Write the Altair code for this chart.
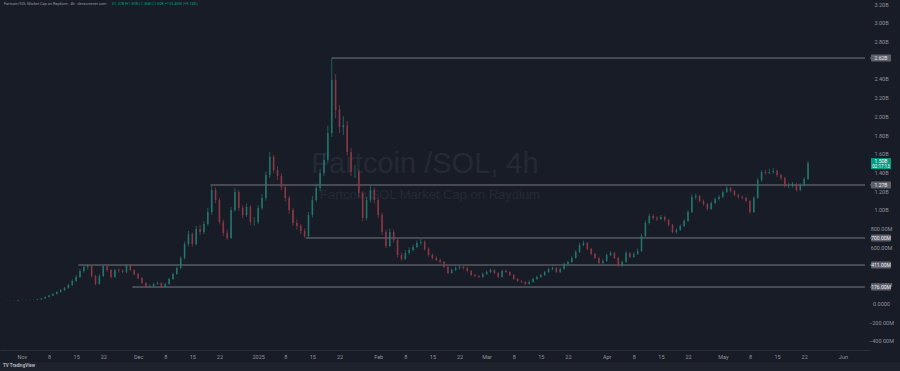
import altair as alt
import pandas as pd
from datetime import datetime, timedelta

# ---------------- data (market cap in millions, daily candles) ----------------
start_day = "2024-10-28"
first_open = 32
closes = [32,32,32,37,37,37,37,37,43,53,
          69,85,101,123,144,166,198,240,283,347,
          390,400,294,208,294,400,358,283,358,347,
          336,411,358,315,272,219,176,187,208,219,
          176,208,262,315,379,486,635,742,635,796,
          764,849,977,1212,1105,870,753,700,999,1191,
          1020,945,1031,870,870,1020,1127,1372,1565,1426,
          1362,1244,1127,999,860,828,774,721,945,1105,
          1233,1394,1533,1821,2387,2067,1885,1906,1618,1404,
          1404,1180,913,1105,1212,1105,945,764,614,764,
          678,518,475,539,571,603,646,657,582,518,
          486,465,443,390,326,358,379,390,379,347,
          304,294,283,315,336,358,326,283,347,336,
          304,262,240,230,208,230,262,283,304,336,
          368,379,336,368,422,443,486,550,625,646,
          582,529,486,432,454,518,539,486,400,443,
          539,497,529,561,721,860,934,913,902,924,
          892,838,764,785,828,881,977,1137,1148,1095,
          1063,1009,1073,1116,1137,1191,1233,1201,1159,1137,
          1127,1095,977,1127,1319,1404,1394,1404,1415,1372,
          1340,1255,1255,1276,1212,1265,1330,1500]
highs = [34,34,35,39,40,40,41,41,46,57,
         75,92,110,132,156,178,212,258,302,368,
         405,412,408,305,310,410,412,368,372,380,
         365,418,420,370,328,285,230,205,222,235,
         228,220,275,330,395,505,660,775,760,830,
         840,880,1020,1266,1240,1130,895,790,1030,1235,
         1210,1050,1070,1050,920,1050,1170,1410,1620,1590,
         1470,1390,1270,1150,1020,900,850,800,980,1150,
         1280,1440,1600,1900,2623,2450,2120,2000,1950,1660,
         1480,1430,1200,1140,1260,1240,1130,970,790,800,
         790,700,545,570,600,630,675,690,675,600,
         535,505,480,455,400,375,395,410,405,392,
         358,320,305,330,352,375,368,335,362,365,
         345,312,272,250,240,245,275,298,318,350,
         382,395,390,385,438,460,505,570,650,670,
         660,595,540,498,472,535,560,552,495,460,
         560,552,548,585,745,885,960,955,935,945,
         938,905,850,805,845,900,1000,1165,1175,1160,
         1110,1075,1090,1135,1160,1210,1255,1245,1215,1172,
         1155,1140,1105,1145,1340,1425,1430,1440,1445,1430,
         1390,1352,1290,1300,1290,1285,1350,1520]
lows = [30,30,30,31,35,34,35,35,36,41,
        50,65,80,96,115,135,158,188,228,270,
        330,360,280,195,200,285,340,268,275,330,
        320,325,345,300,260,205,176,168,178,198,
        168,170,200,250,305,365,470,610,610,620,
        735,740,830,950,1070,845,720,680,690,980,
        990,910,925,840,830,850,1000,1100,1340,1390,
        1320,1210,1090,960,830,790,740,700,705,920,
        1080,1200,1360,1500,1780,1980,1820,1800,1580,1360,
        1340,1130,880,890,1080,1070,910,730,590,600,
        650,495,455,465,520,555,590,620,565,500,
        470,450,428,375,312,318,345,365,360,335,
        292,282,272,275,305,325,315,272,278,325,
        292,252,230,220,198,200,222,252,272,295,
        325,355,325,328,360,410,432,478,540,610,
        570,515,472,420,422,445,505,475,390,392,
        435,485,488,518,550,710,845,895,880,890,
        875,820,750,748,775,815,870,965,1110,1080,
        1045,995,1000,1060,1100,1125,1180,1185,1145,1120,
        1110,1080,960,968,1115,1300,1375,1380,1385,1355,
        1320,1240,1232,1240,1198,1200,1250,1320]

# horizontal rays
lvl_values = [2623, 1266, 700, 411, 176]
lvl_starts = ["2025-01-20T00:00:00Z", "2024-12-19T17:00:00Z", "2025-01-13T07:00:00Z",
              "2024-11-15T14:00:00Z", "2024-11-29T12:00:00Z"]
lvl_labels = ["2.62B", "1.27B", "700.00M", "411.00M", "176.00M"]

y_ticks = [3200, 3000, 2800, 2400, 2200, 2000, 1800, 1600, 1400, 1200, 1000,
           800, 600, 200, 0, -200, -400]

last_price_label = "1.50B"
last_countdown = "02:17:13"

header_grey = "Fartcoin/SOL Market Cap on Raydium · 4h · dexscreener.com"
header_green = "O1.37B H1.50B L1.36B C1.50B +133.40M (+9.74%)"

# ---------------- build table ----------------
base = datetime.strptime(start_day, "%Y-%m-%d")
opens = [first_open] + closes[:-1]
rows = []
for i, (o, h, l, c) in enumerate(zip(opens, highs, lows, closes)):
    t = (base + timedelta(days=i)).strftime("%Y-%m-%dT%H:%M:%SZ")
    rows.append({"t": t, "open": o, "high": h, "low": l, "close": c,
                 "dir": "up" if c >= o else "down"})
df = pd.DataFrame(rows)

dom_end = "2025-06-06T17:00:00Z"
lv = pd.DataFrame({"v": lvl_values, "start": lvl_starts, "end": [dom_end] * len(lvl_values),
                   "label": lvl_labels})

BG = "#181c27"
W, H = 870, 350

tick_dates = []
for m, y in [(11, 2024), (12, 2024), (1, 2025), (2, 2025), (3, 2025), (4, 2025), (5, 2025)]:
    for d in [1, 8, 15, 22]:
        tick_dates.append(alt.DateTime(year=y, month=m, date=d, utc=True))
tick_dates.append(alt.DateTime(year=2025, month=6, date=1, utc=True))

xscale = alt.Scale(type="utc",
                   domain=[alt.DateTime(year=2024, month=10, date=27, hours=15, utc=True),
                           alt.DateTime(year=2025, month=6, date=6, hours=17, utc=True)])
yscale = alt.Scale(domain=[-497, 3243], nice=False, zero=False)

color = alt.Color("dir:N", scale=alt.Scale(domain=["up", "down"], range=["#22796f", "#8e3a46"]),
                  legend=None)

xaxis = alt.Axis(values=tick_dates, title=None, grid=False, ticks=False,
                 domainColor="#2a2e39", labelColor="#8f929b", labelFontSize=5.5,
                 labelFont="Roboto", labelPadding=4, labelOverlap=False,
                 labelExpr="utcdate(datum.value)==1 ? (utcmonth(datum.value)==0 ? utcFormat(datum.value,'%Y') : utcFormat(datum.value,'%b')) : utcFormat(datum.value,'%-d')")
yaxis = alt.Axis(orient="right", values=y_ticks, title=None, grid=False, ticks=False,
                 domain=False, labelColor="#8f929b", labelFontSize=5.5, labelFont="Roboto",
                 labelAlign="center", labelPadding=11, labelOverlap=False,
                 labelExpr="datum.value==0 ? '0.0000' : (abs(datum.value)>=1000 ? format(datum.value/1000,'.2f')+'B' : format(datum.value,'.2f')+'M')")

basech = alt.Chart(df)
wicks = basech.mark_rule(strokeWidth=0.8, opacity=0.9).encode(
    x=alt.X("t:T", scale=xscale, axis=xaxis),
    y=alt.Y("low:Q", scale=yscale, axis=yaxis),
    y2="high:Q",
    color=color,
)
bodies = basech.mark_bar(size=1.6, opacity=0.9).encode(
    x=alt.X("t:T", axis=xaxis), y=alt.Y("open:Q", axis=yaxis), y2="close:Q", color=color)

levels = alt.Chart(lv).mark_rule(color="#9598a1", strokeWidth=1, opacity=0.75).encode(
    x=alt.X("start:T", axis=xaxis), x2="end:T", y=alt.Y("v:Q", axis=yaxis))
lvl_ext = alt.Chart(lv).mark_rule(color="#9598a1", strokeWidth=1, opacity=0.75).encode(
    x=alt.value(W), x2=alt.value(W + 2), y=alt.Y("v:Q", axis=yaxis))
lvl_box = alt.Chart(lv).mark_rect(color="#5d606b", yOffset=-3.5, y2Offset=3.5,
                                  cornerRadius=1).encode(
    x=alt.value(W + 1), x2=alt.value(W + 21), y=alt.Y("v:Q", axis=yaxis), y2="v:Q")
lvl_txt = alt.Chart(lv).mark_text(color="#e8e9ec", fontSize=5, font="Roboto",
                                  align="center", baseline="middle").encode(
    x=alt.value(W + 11), y=alt.Y("v:Q", axis=yaxis), text="label:N")

last = pd.DataFrame({"v": [closes[-1]], "p": [last_price_label], "c": [last_countdown]})
last_box = alt.Chart(last).mark_rect(color="#089981", yOffset=-5, y2Offset=6).encode(
    x=alt.value(W + 1), x2=alt.value(W + 21), y=alt.Y("v:Q", axis=yaxis), y2="v:Q")
last_txt1 = alt.Chart(last).mark_text(color="#ffffff", fontSize=5, font="Roboto",
                                      align="center", baseline="middle", dy=-2).encode(
    x=alt.value(W + 11), y=alt.Y("v:Q", axis=yaxis), text="p:N")
last_txt2 = alt.Chart(last).mark_text(color="#ffffff", fontSize=4.5, font="Roboto",
                                      align="center", baseline="middle", dy=3.5).encode(
    x=alt.value(W + 11), y=alt.Y("v:Q", axis=yaxis), text="c:N")

wm = pd.DataFrame({"a": ["Fartcoin /SOL, 4h"], "b": ["Fartcoin/SOL Market Cap on Raydium"]})
wm1 = alt.Chart(wm).mark_text(color="#252935", fontSize=29, font="Liberation Sans",
                              align="center", baseline="middle").encode(
    x=alt.value(425), y=alt.value(164), text="a:N")
wm2 = alt.Chart(wm).mark_text(color="#252935", fontSize=13, font="Liberation Sans",
                              align="center", baseline="middle").encode(
    x=alt.value(430), y=alt.value(195), text="b:N")

hd = pd.DataFrame({"g": [header_grey], "c": [header_green]})
hd1 = alt.Chart(hd).mark_text(color="#9598a1", fontSize=3.8, font="Roboto", align="left",
                              baseline="middle").encode(
    x=alt.value(4), y=alt.value(4), text="g:N")
hd2 = alt.Chart(hd).mark_text(color="#089981", fontSize=3.8, font="Roboto", align="left",
                              baseline="middle").encode(
    x=alt.value(112), y=alt.value(4), text="c:N")

footer = alt.Chart(hd).mark_rect(color="#1e222d").encode(
    x=alt.value(-1), x2=alt.value(W + 31), y=alt.value(H + 12), y2=alt.value(H + 22))
logo = alt.Chart(pd.DataFrame({"s": ["TV TradingView"]})).mark_text(
    color="#b2b5be", fontSize=4.5, font="Roboto", align="left", baseline="middle",
    fontWeight="bold").encode(x=alt.value(3), y=alt.value(H + 16), text="s:N")

chart = alt.layer(
    wm1, wm2, levels, lvl_ext, wicks, bodies, lvl_box, lvl_txt, last_box, last_txt1,
    last_txt2, hd1, hd2, footer, logo
).properties(
    width=W, height=H,
    background=BG,
    padding={"left": 0, "top": 0, "right": 30, "bottom": 21},
    autosize=alt.AutoSizeParams(type="none"),
).configure_view(stroke=None, fill=BG).configure_axis(labelOverlap=False, labelFlush=False)

chart.save("out.html", embed_options={"renderer": "svg", "actions": False})
